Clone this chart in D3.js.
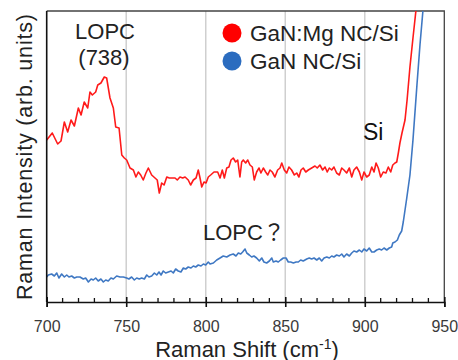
<!DOCTYPE html>
<html>
<head>
<meta charset="utf-8">
<script src="https://cdn.jsdelivr.net/npm/d3@7"></script>
<style>
  body { margin: 0; background: #fff; }
  text { font-family: "Liberation Sans", Arial, "Noto Sans CJK JP", sans-serif; }
</style>
</head>
<body>
<div id="chart"></div>
<script>
// x ticks and grid
const shiftTicks = [700, 750, 800, 850, 900, 950];
const gridShifts = [750, 800, 850, 900];
const minorShifts = d3.range(700, 951, 10);

// GaN:Mg NC/Si (red), arb. units
const redShift = [700, 701.0, 703.5, 706.9, 709.0, 711.1, 713.2, 715.3, 717.4, 719.9, 721.6, 723.6, 725.8, 727.2, 728.7, 730.8, 732.1, 734.1, 736.2, 737.7, 739.8, 741.9, 743.4, 745.5, 747.2, 748.8, 750.3, 752.4, 754.5, 756.1, 757.6, 759.1, 760.7, 762.4, 763.9, 766.0, 768.1, 769.5, 770.8, 772.3, 773.8, 775.5, 777.1, 778.6, 780.7, 782.1, 783.8, 785.5, 787.0, 789.0, 790.5, 792.2, 793.9, 795.3, 796.4, 797.5, 798.9, 800.2, 801.6, 803.1, 805.2, 807.5, 809.0, 810.4, 811.7, 813.2, 814.6, 815.9, 817.3, 818.8, 820.1, 821.5, 822.6, 823.6, 825.1, 826.4, 827.8, 829.3, 830.5, 832.0, 833.5, 834.7, 836.2, 837.7, 839.0, 840.4, 841.8, 843.5, 845.2, 846.7, 847.8, 849.4, 850.9, 852.3, 854.0, 855.7, 857.2, 858.6, 859.9, 861.3, 862.9, 864.5, 866.6, 868.7, 870.1, 871.8, 873.5, 875.0, 876.4, 877.7, 879.2, 880.6, 882.3, 884.0, 885.5, 886.9, 888.6, 890.3, 891.8, 893.2, 894.9, 896.6, 898.1, 899.5, 901.2, 902.8, 904.4, 905.8, 907.1, 908.5, 910.0, 911.6, 913.3, 914.8, 916.3, 917.6, 919.0, 920.1, 921.1, 922.1, 923.4, 925.3, 926.6, 928.4, 930.3, 932.2, 933.5];
const redIntensity = [162, 164, 169, 158, 161, 180, 170, 182, 176, 194, 187, 200, 194, 210, 207, 210, 217, 219, 225, 224, 204, 194, 175, 174, 147, 144, 142, 134, 132, 125, 130, 127, 122, 129, 134, 127, 124, 122, 109, 119, 117, 125, 124, 124, 124, 122, 125, 124, 125, 122, 117, 122, 124, 132, 124, 115, 120, 119, 125, 127, 130, 130, 124, 132, 124, 134, 135, 142, 144, 140, 142, 125, 140, 142, 139, 142, 137, 135, 122, 130, 134, 129, 134, 130, 127, 132, 130, 125, 132, 134, 139, 132, 129, 135, 132, 127, 129, 125, 132, 134, 130, 132, 134, 136, 134, 137, 132, 135, 130, 134, 132, 135, 129, 127, 134, 132, 129, 134, 125, 132, 135, 130, 122, 130, 125, 127, 135, 130, 139, 134, 125, 130, 129, 135, 130, 137, 139, 140, 149, 159, 169, 182, 202, 235, 264, 292, 322];

// GaN NC/Si (blue)
const blueShift = [700, 701.0, 703.1, 704.8, 706.3, 707.7, 709.4, 711.1, 712.6, 714.0, 715.7, 717.4, 718.9, 720.9, 723.0, 724.5, 726.2, 727.9, 729.3, 730.8, 732.4, 734.1, 735.6, 737.1, 738.7, 740.4, 741.9, 744.0, 746.1, 748.2, 750.3, 751.7, 753.4, 755.1, 756.6, 758.2, 759.7, 761.4, 762.9, 764.3, 766.0, 767.7, 769.2, 770.6, 771.9, 773.3, 774.8, 776.5, 778.2, 779.6, 781.1, 782.7, 784.4, 785.9, 787.4, 789.0, 790.7, 792.2, 793.7, 795.3, 797.0, 798.5, 800.0, 801.6, 802.7, 804.8, 806.9, 809.0, 811.0, 813.2, 815.3, 817.3, 819.0, 820.5, 822.0, 823.2, 824.7, 825.8, 827.4, 828.9, 830.3, 832.0, 833.7, 835.2, 836.6, 838.3, 840.0, 841.5, 842.5, 844.2, 845.6, 847.1, 848.8, 850.5, 851.9, 853.4, 855.1, 856.8, 858.2, 859.7, 861.3, 863.5, 865.1, 866.6, 868.1, 869.8, 871.4, 872.9, 874.4, 876.1, 877.7, 879.2, 880.6, 882.3, 884.0, 885.5, 886.9, 888.6, 890.3, 891.8, 893.2, 894.9, 896.6, 898.1, 899.5, 901.2, 902.8, 904.4, 905.8, 907.5, 909.1, 910.6, 912.1, 913.8, 915.4, 916.9, 917.6, 919.0, 920.5, 921.7, 923.2, 924.2, 925.3, 926.4, 928.4, 930.3, 932.8, 934.7, 936.6, 937.9];
const blueIntensity = [25, 27, 28, 26, 29, 24, 28, 25, 27, 25, 26, 24, 25, 25, 23, 24, 20, 23, 22, 24, 21, 23, 20, 22, 21, 24, 23, 26, 25, 25, 24, 23, 25, 22, 24, 23, 24, 23, 27, 25, 26, 29, 27, 30, 27, 31, 29, 30, 31, 29, 33, 31, 30, 34, 33, 35, 34, 36, 35, 37, 36, 38, 37, 40, 38, 39, 42, 44, 46, 45, 47, 48, 46, 49, 48, 50, 53, 49, 47, 45, 46, 44, 41, 44, 40, 39, 41, 44, 40, 41, 40, 42, 44, 44, 40, 40, 39, 40, 40, 42, 41, 43, 44, 43, 44, 42, 44, 41, 44, 45, 44, 46, 45, 47, 46, 48, 45, 48, 46, 49, 51, 50, 52, 50, 53, 51, 54, 50, 50, 52, 53, 52, 54, 52, 54, 55, 59, 60, 62, 67, 71, 80, 92, 104, 127, 162, 217, 257, 292, 322];

const seriesNames = ["GaN:Mg NC/Si", "GaN NC/Si"];
const seriesColors = ["#ff1a1a", "#3f78c3"];
const dotColors = ["#ff0000", "#2b6cbf"];

const W = 458, H = 360;
const plotLeft = 46.7, plotRight = 444.3, plotTop = 11, plotBottom = 302;

const svg = d3.select("#chart").append("svg")
  .attr("width", W).attr("height", H);

const x = d3.scaleLinear().domain([700, 950]).range([plotLeft, plotRight]);
const y = d3.scaleLinear().domain([0, 291]).range([plotBottom, plotTop]);

svg.append("clipPath").attr("id", "plot")
  .append("rect").attr("x", plotLeft).attr("y", plotTop)
  .attr("width", plotRight - plotLeft).attr("height", plotBottom - plotTop);

// vertical grid
svg.selectAll(".grid").data(gridShifts).enter().append("line")
  .attr("x1", d => x(d)).attr("x2", d => x(d))
  .attr("y1", plotTop).attr("y2", plotBottom)
  .attr("stroke", "#cfcfcf").attr("stroke-width", 1.5);

// frame top/right
svg.append("path")
  .attr("d", `M${plotLeft},${plotTop}H${plotRight}V${plotBottom}`)
  .attr("fill", "none").attr("stroke", "#444").attr("stroke-width", 1.3);

// series lines
const line = d3.line().x(d => x(d[0])).y(d => y(d[1]));
const redData = redShift.map((s, i) => [s, redIntensity[i]]);
const blueData = blueShift.map((s, i) => [s, blueIntensity[i]]);

const g = svg.append("g").attr("clip-path", "url(#plot)");
g.append("path").datum(blueData).attr("d", line)
  .attr("fill", "none").attr("stroke", seriesColors[1]).attr("stroke-width", 1.6)
  .attr("stroke-linejoin", "round");
g.append("path").datum(redData).attr("d", line)
  .attr("fill", "none").attr("stroke", seriesColors[0]).attr("stroke-width", 1.6)
  .attr("stroke-linejoin", "round");

// left axis line
svg.append("line").attr("x1", plotLeft).attr("x2", plotLeft)
  .attr("y1", plotTop).attr("y2", plotBottom)
  .attr("stroke", "#111").attr("stroke-width", 1.6);

// bottom axis
const xAxis = svg.append("g").attr("transform", `translate(0,${plotBottom})`)
  .call(d3.axisBottom(x).tickValues(shiftTicks).tickSize(5).tickPadding(14));
xAxis.select(".domain").attr("stroke", "#111").attr("stroke-width", 1.6);
xAxis.selectAll(".tick line").attr("stroke", "#111").attr("stroke-width", 1.6)
  .attr("y1", -5);
xAxis.selectAll(".tick text")
  .attr("fill", "#3a3a3a").style("font-size", "16px")
  .style("font-family", "'Liberation Sans', Arial, sans-serif");

svg.selectAll(".minor").data(minorShifts.filter(d => d % 50 !== 0)).enter().append("line")
  .attr("x1", d => x(d)).attr("x2", d => x(d))
  .attr("y1", plotBottom - 4).attr("y2", plotBottom)
  .attr("stroke", "#111").attr("stroke-width", 1.3);

// axis titles
const xt = svg.append("text").attr("x", 247).attr("y", 356.5)
  .attr("text-anchor", "middle").attr("fill", "#222").style("font-size", "22px");
xt.append("tspan").text("Raman Shift (cm");
xt.append("tspan").attr("dy", -8).style("font-size", "14px").text("-1");
xt.append("tspan").attr("dy", 8).text(")");

svg.append("text")
  .attr("transform", "translate(31.5,157) rotate(-90)")
  .attr("text-anchor", "middle").attr("fill", "#222").style("font-size", "21.5px")
  .attr("textLength", 286)
  .text("Raman Intensity (arb. units)");

// annotations
svg.append("text").attr("x", 105).attr("y", 38.5).attr("text-anchor", "middle")
  .attr("fill", "#222").style("font-size", "22px").text("LOPC");
svg.append("text").attr("x", 104).attr("y", 64.5).attr("text-anchor", "middle")
  .attr("fill", "#222").style("font-size", "22px").text("(738)");
svg.append("text").attr("x", 363).attr("y", 140).attr("fill", "#111")
  .style("font-size", "23px").text("Si");
svg.append("text").attr("x", 203).attr("y", 240).attr("fill", "#222")
  .style("font-size", "22px").text("LOPC？");

// legend
const legend = svg.append("g");
seriesNames.forEach((name, i) => {
  const cy = 33 + i * 28;
  legend.append("circle").attr("cx", 232).attr("cy", cy).attr("r", 9.5)
    .attr("fill", dotColors[i]);
  legend.append("text").attr("x", 250).attr("y", cy + 7.5)
    .attr("fill", "#222").style("font-size", "22.5px").text(name);
});
</script>
</body>
</html>
